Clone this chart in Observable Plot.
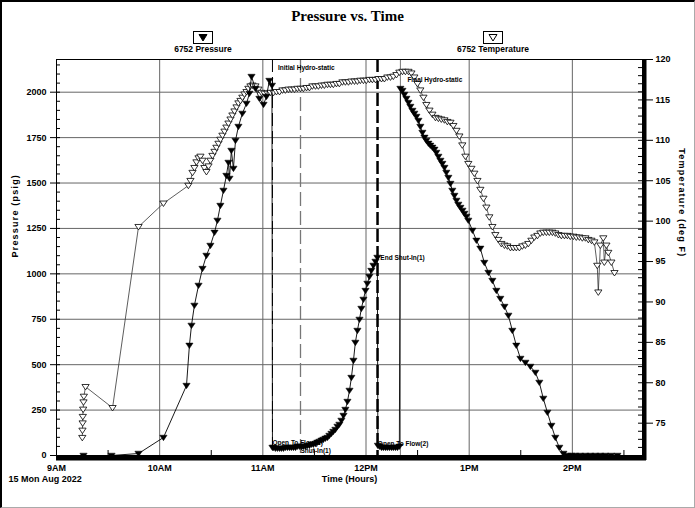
<!DOCTYPE html>
<html><head><meta charset="utf-8">
<script src="https://cdn.jsdelivr.net/npm/d3@7"></script>
<script src="https://cdn.jsdelivr.net/npm/@observablehq/plot@0.6"></script>
<style>
body{margin:0;background:#fff;}
#wrap{position:relative;width:695px;height:508px;overflow:hidden;background:#fff;font-family:"Liberation Sans Narrow","Liberation Sans",Arial,sans-serif;}
#border{position:absolute;left:0;top:0;width:695px;height:508px;box-sizing:border-box;border-left:2px solid #000;border-top:2px solid #000;border-right:1px solid #aaa;border-bottom:1px solid #aaa;pointer-events:none;}
#title{position:absolute;top:8px;left:0;width:695px;text-align:center;font:bold 15px "Liberation Serif","Times New Roman",serif;}
.leg{position:absolute;top:31px;width:120px;text-align:center;}
.box{margin:0 auto;width:18px;height:11px;border:1px solid #000;background:#fff;}
.box svg{display:block;}
.lab{font-weight:bold;font-size:8.5px;line-height:9px;margin-top:1px;}
#plot{position:absolute;left:0;top:0;}
</style></head>
<body>
<div id="wrap">
  <div id="plot"></div>
  <div id="title">Pressure vs. Time</div>
  <div class="leg" style="left:143px"><div class="box"><svg width="18" height="11"><path d="M5,2.5L13,2.5L9,9Z" fill="#000" stroke="#000"/></svg></div><div class="lab">6752 Pressure</div></div>
  <div class="leg" style="left:433px"><div class="box"><svg width="18" height="11"><path d="M5,2.5L13,2.5L9,9Z" fill="#fff" stroke="#000"/></svg></div><div class="lab">6752 Temperature</div></div>
  <div id="border"></div>
</div>
<script>
// ---------------- data ----------------
const hourLabels = ["9AM","10AM","11AM","12PM","1PM","2PM"];
const dateLabel = "15 Mon Aug 2022";

// [clock time, psig]
const pressureReadings = [
["9:15.7",0],["9:32.0",0],["9:47.7",11],["10:02.2",99],["10:15.6",385],["10:17.3",606],["10:18.5",716],["10:20.2",826],["10:22.6",936],["10:24.9",1029],["10:27.2",1101],["10:29.5",1156],["10:31.9",1228],["10:33.6",1294],["10:35.3",1376],["10:37.1",1459],["10:38.8",1541],["10:40.0",1613],["10:40.6",1525],["10:41.7",1679],["10:42.9",1580],["10:44.1",1734],["10:45.8",1811],["10:48.1",1883],["10:50.5",1938],["10:52.2",1993],["10:53.4",2086],["10:55.7",2020],["10:58.0",1965],["11:00.4",1932],["11:02.1",1976],["11:03.8",2064],["11:05.3",2037],
["11:05.6",44],["11:06.2",44],["11:07.3",39],["11:08.5",39],["11:09.7",39],["11:10.8",39],["11:12.0",39],["11:13.1",44],["11:14.3",44],["11:15.5",44],["11:16.6",44],["11:17.8",44],["11:19.0",44],["11:20.1",50],["11:21.3",50],
["11:22.4",50],["11:23.6",50],["11:24.8",50],["11:25.9",55],["11:27.1",55],["11:28.3",61],["11:29.4",61],["11:30.6",66],["11:31.7",72],["11:32.9",77],["11:34.1",83],["11:35.2",88],["11:36.4",94],["11:37.6",99],["11:38.7",110],["11:39.9",121],["11:41.0",132],["11:42.2",143],["11:43.4",160],["11:44.5",171],["11:45.7",193],["11:46.9",220],["11:48.0",253],["11:49.2",297],["11:50.4",358],["11:51.5",429],["11:52.7",523],["11:53.8",622],["11:55.0",688],["11:56.2",749],["11:57.3",809],["11:58.5",859],["11:59.7",908],["12:00.8",947],["12:02.0",985],["12:03.1",1018],["12:04.3",1046],["12:05.5",1068],["12:06.6",1090],
["12:06.9",55],["12:07.8",50],["12:09.0",44],["12:10.1",44],["12:11.3",44],["12:12.4",44],["12:13.6",44],["12:14.8",44],["12:15.9",44],["12:17.1",44],["12:18.3",44],["12:19.4",50],
["12:20.0",2020],["12:21.2",2009],["12:22.3",1987],["12:23.5",1965],["12:24.7",1943],["12:25.8",1921],["12:27.0",1899],["12:28.1",1883],["12:29.3",1866],["12:30.5",1844],["12:31.6",1811],["12:32.8",1778],["12:34.0",1751],["12:35.1",1734],["12:36.3",1718],["12:37.4",1707],["12:38.6",1696],["12:39.8",1685],["12:40.9",1668],["12:42.1",1646],["12:43.3",1624],["12:44.4",1607],["12:45.6",1585],["12:46.7",1558],["12:47.9",1530],["12:49.1",1497],["12:50.2",1459],["12:51.4",1431],["12:52.6",1404],["12:53.7",1382],["12:54.9",1365],["12:56.1",1349],["12:57.2",1332],["12:58.4",1316],["12:59.5",1294],
["13:01.9",1239],["13:04.2",1184],["13:06.5",1140],["13:08.8",1062],["13:11.2",1007],["13:13.5",963],["13:15.8",908],["13:18.1",864],["13:20.5",820],["13:22.8",771],["13:25.1",688],["13:27.4",606],["13:29.8",534],["13:32.7",512],["13:35.6",490],["13:38.5",457],["13:40.8",402],["13:43.1",314],["13:45.5",237],["13:47.8",165],["13:50.1",99],["13:52.4",44],["13:54.8",11],["13:57.1",0],["13:59.5",0],["14:01.7",0],["14:04.5",0],["14:07.6",0],["14:10.5",0],["14:13.4",0],["14:16.3",0],["14:19.2",0],["14:22.5",0],["14:26.2",0]
];

// [clock time, deg F]
const temperatureReadings = [
["9:15.0",73.2],["9:15.1",74.1],["9:15.2",75.0],["9:15.3",75.8],["9:15.5",76.7],["9:15.7",77.6],["9:15.9",78.3],["9:16.9",79.5],["9:32.6",76.9],["9:47.7",99.3],["10:02.2",102.2],
["10:16.7",104.4],["10:17.9",105.0],["10:19.1",106.0],["10:20.2",106.6],["10:21.4",107.3],["10:22.6",107.8],["10:23.7",108.0],["10:24.9",107.5],["10:26.0",106.6],["10:27.2",106.1],["10:28.4",106.8],["10:29.5",107.5],["10:30.7",108.1],["10:31.9",108.6],["10:33.0",109.1],["10:34.2",109.6],["10:35.3",110.1],["10:36.5",110.6],["10:37.7",111.1],["10:38.8",111.6],["10:40.0",112.1],["10:41.2",112.6],["10:42.3",113.1],["10:43.5",113.6],["10:44.7",114.1],["10:45.8",114.6],["10:47.0",114.9],["10:48.1",115.3],["10:49.3",115.7],["10:50.5",116.0],["10:51.6",116.4],["10:52.8",116.7],["10:54.0",116.8],["10:55.7",116.7],["10:57.4",116.3],["10:59.2",115.9],["11:00.9",115.8],["11:02.7",115.8],["11:04.4",115.9],
["11:06.2",115.9],["11:07.9",116.0],["11:09.7",116.0],["11:11.4",116.2],["11:13.1",116.2],["11:14.9",116.3],["11:16.6",116.3],["11:18.4",116.3],["11:20.1",116.4],["11:21.9",116.4],["11:23.6",116.4],["11:25.4",116.5],["11:27.1",116.5],["11:28.8",116.7],["11:30.6",116.7],["11:32.3",116.7],["11:34.1",116.8],["11:35.8",116.8],["11:37.6",116.9],["11:39.3",116.9],["11:41.0",116.9],["11:42.8",117.0],["11:44.5",117.0],["11:46.3",117.2],["11:48.0",117.2],["11:49.8",117.2],["11:51.5",117.3],["11:53.3",117.3],["11:55.0",117.3],["11:56.7",117.4],["11:58.5",117.4],["12:00.2",117.4],["12:02.0",117.5],["12:03.7",117.5],["12:05.5",117.5],["12:07.2",117.6],["12:09.0",117.6],["12:10.7",117.6],["12:12.4",117.8],["12:14.2",117.8],["12:15.9",117.9],["12:17.7",118.1],["12:19.4",118.4],["12:21.2",118.5],["12:22.9",118.5],["12:24.7",118.5],["12:26.4",118.3],
["12:28.1",117.8],["12:29.9",117.0],["12:31.6",116.2],["12:33.4",115.3],["12:35.1",114.4],["12:36.9",113.7],["12:38.6",113.2],["12:40.4",112.8],["12:42.1",112.7],["12:43.8",112.6],["12:45.6",112.5],["12:47.3",112.3],["12:49.1",112.2],["12:50.8",111.8],["12:52.6",111.2],["12:54.3",110.5],["12:56.0",109.4],["12:57.8",108.0],["12:59.5",107.1],["13:01.3",106.5],["13:03.0",105.9],["13:04.8",105.0],["13:06.5",103.9],["13:08.3",102.8],["13:10.0",101.7],["13:11.7",100.5],["13:13.5",99.3],["13:15.2",98.3],["13:17.0",97.7],["13:18.7",97.2],["13:20.5",97.0],["13:22.2",96.9],["13:24.0",96.7],["13:25.7",96.7],["13:27.4",96.7],["13:29.2",96.7],["13:30.9",96.9],["13:32.7",97.0],["13:34.4",97.2],["13:36.2",97.6],["13:37.9",98.0],["13:39.7",98.2],["13:41.4",98.5],["13:43.1",98.6],["13:44.9",98.6],["13:46.6",98.6],["13:48.4",98.6],["13:50.1",98.5],["13:51.9",98.3],["13:53.6",98.2],["13:55.4",98.2],["13:57.1",98.2],["13:58.8",98.1],["14:00.6",98.1],["14:02.3",98.0],["14:04.1",98.0],["14:05.8",97.9],["14:07.6",97.9],["14:09.3",97.7],["14:11.1",97.6],["14:12.8",97.4],
["14:14.5",94.5],["14:15.1",91.2],["14:16.3",97.0],["14:18.0",97.9],["14:18.6",94.9],["14:19.8",97.0],["14:20.9",96.1],["14:22.7",94.9],["14:24.5",93.6]
];

// test events (vertical markers)
const eventTime = ["11:05.6","11:21.9","12:06.7","12:20.0"];
// annotations
const annoLabel = ["Initial Hydro-static","Open To Flow(1)","Shut-In(1)","End Shut-In(1)","Open To Flow(2)","Final Hydro-static"];
const annoTime = ["11:05.3","11:05.6","11:21.9","12:06.6","12:06.9","12:20.0"];
const annoPsi = [2037,44,50,1090,55,2020];

const pressureTicks = d3.range(0, 2001, 250);
const tempTicks = d3.range(75, 121, 5);

// ---------------- helpers ----------------
const hrs = s => { const [h, m] = s.split(":"); return +h + (+m) / 60; };
const T0 = 71, T1 = 120, PMAX = 2180;
const toP = T => (T - T0) / (T1 - T0) * PMAX;
const fromP = p => T0 + p / PMAX * (T1 - T0);

const pressure = pressureReadings.map(([t, v]) => ({t: hrs(t), v}));
const temperature = temperatureReadings.map(([t, v]) => ({t: hrs(t), v: toP(v)}));
const annos = annoLabel.map((l, i) => ({label: l, t: hrs(annoTime[i]), v: annoPsi[i]}));
const annoOffset = [[6,-18],[0,-5],[0,4],[3,0],[0,-2],[7,-9]];

const triDown = {
  draw(ctx, size) {
    const r = Math.sqrt(size / Math.PI);
    const w = r * 1.1;
    ctx.moveTo(-w, -r * 0.7);
    ctx.lineTo(w, -r * 0.7);
    ctx.lineTo(0, r * 0.95);
    ctx.closePath();
  }
};

const xMin = 9, xMax = 14.68;
const W = 695, H = 508, mL = 56, mR = 53, mT = 59, mB = 53;
const pw = W - mL - mR, ph = H - mT - mB;

const plot = Plot.plot({
  width: W, height: H,
  marginLeft: mL, marginRight: mR, marginTop: mT, marginBottom: mB,
  x: {domain: [xMin, xMax], axis: null},
  y: {domain: [0, PMAX], axis: null},
  style: {fontFamily: "'Liberation Sans Narrow','Liberation Sans',Arial,sans-serif", fontSize: "9px", fontWeight: "bold", background: "transparent", overflow: "visible"},
  marks: [
    Plot.gridY(pressureTicks.slice(1), {stroke: "#666", strokeOpacity: 1}),
    Plot.gridX(d3.range(10, 15), {stroke: "#666", strokeOpacity: 1}),
    // event lines
    Plot.ruleX([hrs(eventTime[0])], {stroke: "#000", strokeDasharray: "13,5"}),
    Plot.ruleX([hrs(eventTime[1])], {stroke: "#777", strokeWidth: 1.3, strokeDasharray: "14,5"}),
    Plot.ruleX([hrs(eventTime[2])], {stroke: "#000", strokeWidth: 2.5, strokeDasharray: "13,4"}),
    Plot.ruleX([hrs(eventTime[3])], {stroke: "#777"}),
    // temperature
    Plot.line(temperature, {x: "t", y: "v", stroke: "#333", strokeWidth: 0.8}),
    Plot.dot(temperature, {x: "t", y: "v", symbol: triDown, r: 3.3, fill: "#fff", stroke: "#000", strokeWidth: 0.8}),
    // pressure
    Plot.line(pressure, {x: "t", y: "v", stroke: "#000", strokeWidth: 0.9}),
    Plot.dot(pressure, {x: "t", y: "v", symbol: triDown, r: 3.3, fill: "#000", stroke: "#000", strokeWidth: 0.5}),
    // annotations
    ...annos.map((a, i) => Plot.text([a], {x: "t", y: "v", text: "label", textAnchor: "start", dx: annoOffset[i][0], dy: annoOffset[i][1], fontSize: 6.5, fill: "#000"})),
    // frame + shadow
    Plot.frame({stroke: "#000"}),
    Plot.ruleX([xMax], {stroke: "#000", strokeWidth: 4, dx: 2, insetBottom: -5}),
    Plot.ruleY([0], {stroke: "#000", strokeWidth: 5, dy: 2.5, insetRight: -4}),
    // left axis
    Plot.axisY(pressureTicks, {anchor: "left", tickSize: 6, tickPadding: 4, tickFormat: d => String(d), label: null}),
    Plot.tickY(d3.range(50, 2180, 50), {insetRight: pw - 4, stroke: "#000"}),
    // right axis (temperature)
    Plot.axisY(tempTicks.map(toP), {anchor: "right", tickSize: 10, tickPadding: 3, tickFormat: d => String(Math.round(fromP(d))), label: null}),
    Plot.tickY(d3.range(72, 120, 1).map(toP), {insetLeft: pw - 4, stroke: "#000"}),
    // bottom axis
    Plot.axisX(d3.range(9, 15), {anchor: "bottom", tickSize: 0, tickPadding: 9, tickFormat: d => hourLabels[d - 9], label: null}),
    Plot.tickX(d3.range(9.5, 14.6, 1), {insetTop: ph - 5, stroke: "#000"}),
    // axis titles
    Plot.text(["Pressure (psig)"], {frameAnchor: "left", dx: -41, rotate: -90, fontSize: 9, fontFamily: "'Liberation Sans',Arial,sans-serif"}),
    Plot.text(["Temperature (deg F)"], {frameAnchor: "right", dx: 39, rotate: 90, fontSize: 9, fontFamily: "'Liberation Sans',Arial,sans-serif"}),
    Plot.text(["Time (Hours)"], {frameAnchor: "bottom", dy: 26, fontSize: 9}),
    Plot.text([dateLabel], {frameAnchor: "bottom-left", dx: -48, dy: 26, textAnchor: "start", fontSize: 9})
  ]
});
document.getElementById("plot").appendChild(plot);
// letter spacing for the rotated axis titles
plot.querySelectorAll("text").forEach(t => {
  if (t.textContent === "Pressure (psig)" || t.textContent === "Temperature (deg F)") t.setAttribute("letter-spacing", "1.2");
});
</script>
</body></html>
